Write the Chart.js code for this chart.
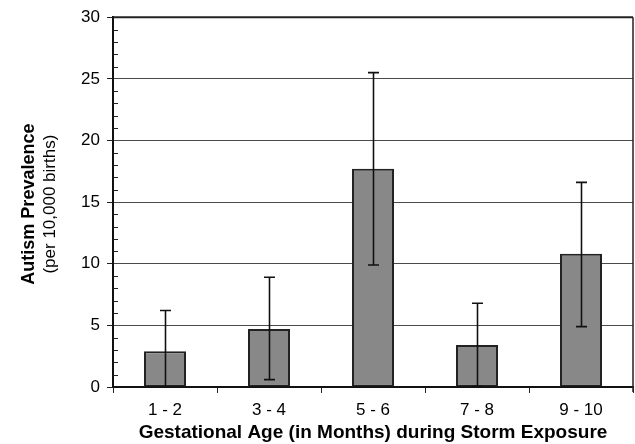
<!DOCTYPE html>
<html>
<head>
<meta charset="utf-8">
<script src="https://cdn.jsdelivr.net/npm/chart.js@4.4.1/dist/chart.umd.min.js"></script>
<style>
html,body{margin:0;padding:0;background:#fff;}
#wrap{width:635px;height:444px;position:relative;}
</style>
</head>
<body>
<div id="wrap"><canvas id="c" width="635" height="444"></canvas></div>
<script>
const categories = ['1 - 2', '3 - 4', '5 - 6', '7 - 8', '9 - 10'];
const prevalence = [2.9, 4.7, 17.7, 3.4, 10.8];
const errLow = [-0.4, 0.6, 9.9, 0.05, 4.9];
const errHigh = [6.2, 8.9, 25.5, 6.8, 16.6];
const yTitleMain = 'Autism Prevalence';
const yTitleSub = '(per 10,000 births)';
const xTitle = 'Gestational Age (in Months) during Storm Exposure';

const FONT = "'Liberation Sans', Arial, sans-serif";

const decorPlugin = {
  id: 'decor',
  afterDatasetsDraw(chart) {
    const ctx = chart.ctx;
    const ys = chart.scales.y;
    const area = chart.chartArea;
    const meta = chart.getDatasetMeta(0);
    ctx.save();
    ctx.beginPath();
    ctx.rect(area.left, area.top - 5, area.right - area.left, area.bottom - area.top + 5);
    ctx.clip();
    ctx.strokeStyle = '#111';
    ctx.lineWidth = 1.6;
    meta.data.forEach((bar, i) => {
      const x = Math.round(bar.x) + 0.5;
      const yl = ys.getPixelForValue(errLow[i]);
      const yh = ys.getPixelForValue(errHigh[i]);
      ctx.beginPath();
      ctx.moveTo(x, yl); ctx.lineTo(x, yh);
      ctx.moveTo(x - 5.5, yh); ctx.lineTo(x + 5.5, yh);
      ctx.moveTo(x - 5.5, yl); ctx.lineTo(x + 5.5, yl);
      ctx.stroke();
    });
    ctx.restore();
  },
  afterDraw(chart) {
    const ctx = chart.ctx;
    const ys = chart.scales.y;
    const area = chart.chartArea;
    ctx.save();
    ctx.strokeStyle = '#222';
    ctx.lineWidth = 1;
    for (let v = 0; v <= 30; v += 1) {
      if (v % 5 === 0) continue;
      const y = Math.round(ys.getPixelForValue(v)) + 0.5;
      ctx.beginPath();
      ctx.moveTo(area.left, y); ctx.lineTo(area.left + 5, y);
      ctx.stroke();
    }
    ctx.strokeStyle = '#222';
    ctx.lineWidth = 1.5;
    ctx.beginPath();
    ctx.moveTo(area.right, area.top); ctx.lineTo(area.right, area.bottom + 5);
    ctx.stroke();
    ctx.lineWidth = 2;
    ctx.strokeStyle = '#222';
    ctx.beginPath();
    ctx.moveTo(area.left, area.top); ctx.lineTo(area.right, area.top);
    ctx.stroke();
    const cy = (area.top + area.bottom) / 2 + 2;
    ctx.fillStyle = '#000';
    ctx.textAlign = 'center';
    ctx.textBaseline = 'middle';
    ctx.translate(29, cy);
    ctx.rotate(-Math.PI / 2);
    ctx.font = 'bold 18px ' + FONT;
    ctx.fillText(yTitleMain, 0, 0);
    ctx.font = '17px ' + FONT;
    ctx.fillText(yTitleSub, 0, 21);
    ctx.restore();
  }
};

new Chart(document.getElementById('c'), {
  type: 'bar',
  data: {
    labels: categories,
    datasets: [{
      data: prevalence,
      backgroundColor: '#888888',
      borderColor: '#222222',
      borderWidth: 2,
      borderSkipped: false,
      categoryPercentage: 1,
      barPercentage: 0.404
    }]
  },
  options: {
    responsive: false,
    animation: false,
    devicePixelRatio: 1,
    layout: { padding: { top: 16, right: 2, left: 0, bottom: 0 } },
    plugins: { legend: { display: false }, tooltip: { enabled: false } },
    scales: {
      x: {
        type: 'category',
        offset: true,
        afterFit(s) { s.height = 57; },
        grid: { display: true, drawOnChartArea: false, offset: true, tickLength: 6, color: '#222', lineWidth: 1 },
        border: { display: true, color: '#111', width: 2 },
        ticks: { color: '#000', font: { family: FONT, size: 17 }, padding: 7 },
        title: { display: true, text: xTitle, color: '#000', font: { family: FONT, size: 19, weight: 'bold' }, padding: { top: 0, bottom: 0 } }
      },
      y: {
        min: 0, max: 30,
        afterFit(s) { s.width = 113; },
        grid: { color: '#4a4a4a', lineWidth: 1, tickLength: 6, tickColor: '#222' },
        border: { display: true, color: '#111', width: 2 },
        ticks: { stepSize: 5, color: '#000', font: { family: FONT, size: 17 }, padding: 7 }
      }
    }
  },
  plugins: [decorPlugin]
});
</script>
</body>
</html>
